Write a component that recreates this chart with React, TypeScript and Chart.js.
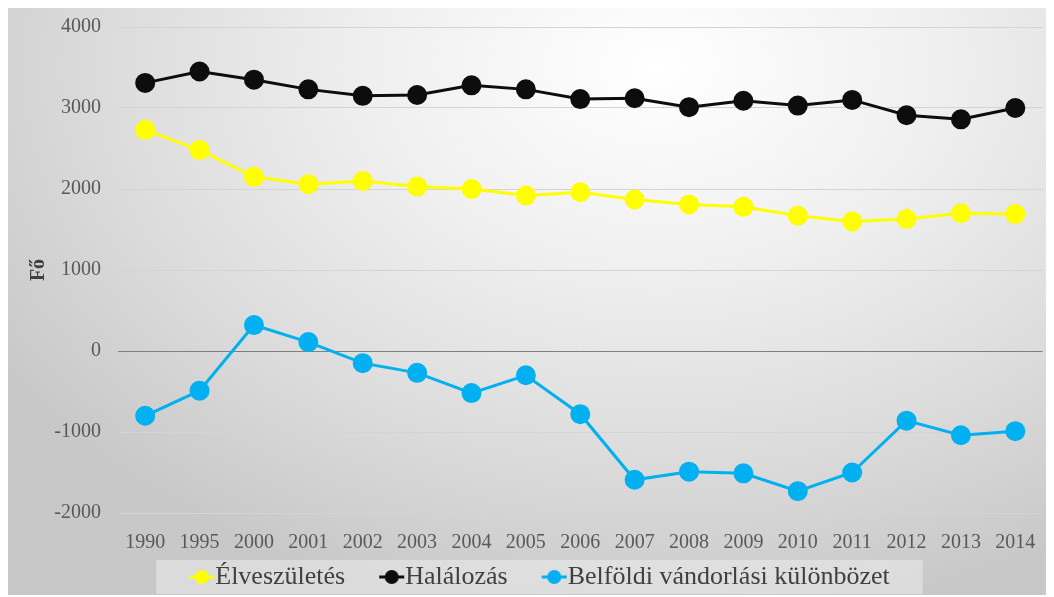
import React, { useEffect, useRef } from "react";
import { Chart, registerables } from "chart.js";

Chart.register(...registerables);

const years = ["1990", "1995", "2000", "2001", "2002", "2003", "2004", "2005", "2006", "2007", "2008", "2009", "2010", "2011", "2012", "2013", "2014"];
const elveszuletes = [2730, 2480, 2150, 2060, 2100, 2030, 2000, 1920, 1960, 1870, 1810, 1780, 1670, 1600, 1630, 1700, 1690];
const halalozas = [3310, 3450, 3350, 3230, 3150, 3160, 3280, 3230, 3110, 3120, 3010, 3090, 3030, 3100, 2910, 2860, 3000];
const belfoldi = [-800, -490, 320, 110, -150, -270, -520, -300, -780, -1590, -1490, -1510, -1730, -1500, -860, -1040, -990];
const seriesNames = ["Élveszületés", "Halálozás", "Belföldi vándorlási különbözet"];
const seriesColors = ["#FFFF00", "#0d0d0d", "#00B0F0"];
const yTicks = [-2000, -1000, 0, 1000, 2000, 3000, 4000];

const FONT = "'Liberation Serif', 'Times New Roman', serif";
const LEAD = 21; // blank lead-in inside each legend item

function makeMarker(color: string): HTMLCanvasElement {
  // image centred at item x + 17 (box width 34); line drawn at item x + 21..46
  const c = document.createElement("canvas");
  c.width = 80;
  c.height = 20;
  const ctx = c.getContext("2d")!;
  ctx.strokeStyle = color;
  ctx.lineWidth = 3;
  ctx.beginPath();
  ctx.moveTo(44, 10);
  ctx.lineTo(69, 10);
  ctx.stroke();
  ctx.fillStyle = color;
  ctx.beginPath();
  ctx.arc(56.5, 10, 7, 0, Math.PI * 2);
  ctx.fill();
  return c;
}

const legendBg = {
  id: "legendBg",
  beforeDraw(chart: any) {
    const lg = chart.legend;
    if (!lg || !lg.legendHitBoxes || !lg.legendHitBoxes.length) return;
    const boxes = lg.legendHitBoxes;
    let l = Infinity, r = -Infinity, cy = 0;
    boxes.forEach((b: any) => {
      l = Math.min(l, b.left);
      r = Math.max(r, b.left + b.width);
      cy = b.top + b.height / 2;
    });
    l += LEAD;
    const ctx = chart.ctx;
    ctx.save();
    ctx.fillStyle = "rgba(255,255,255,0.35)";
    ctx.fillRect(l - 33, cy - 17, r - l + 66, 34);
    ctx.restore();
  },
};

export default function App() {
  const ref = useRef<HTMLCanvasElement>(null);
  useEffect(() => {
    if (!ref.current) return;
    const markers = seriesColors.map(makeMarker);
    const data = [elveszuletes, halalozas, belfoldi];
    const chart = new Chart(ref.current, {
      type: "line",
      data: {
        labels: years,
        datasets: data.map((d, i) => ({
          label: seriesNames[i],
          data: d,
          borderColor: seriesColors[i],
          backgroundColor: seriesColors[i],
          pointBackgroundColor: seriesColors[i],
          pointBorderColor: seriesColors[i],
          borderWidth: 3,
          pointRadius: 8.5,
          pointHoverRadius: 8.5,
          tension: 0,
        })),
      },
      options: {
        animation: false,
        responsive: false,
        maintainAspectRatio: false,
        layout: { padding: { top: 19, right: 4, bottom: -5, left: 0 } },
        plugins: {
          tooltip: { enabled: false },
          legend: {
            position: "bottom",
            labels: {
              usePointStyle: true,
              pointStyleWidth: 34,
              padding: 13,
              color: "#404040",
              font: { family: FONT, size: 26 },
              generateLabels: (ch: any) =>
                (Chart.defaults.plugins.legend.labels as any).generateLabels(ch).map((it: any, i: number) => ({
                  ...it,
                  pointStyle: markers[i],
                })),
            },
          },
        },
        scales: {
          x: {
            offset: true,
            grid: { display: false },
            border: { display: false },
            afterFit: (s: any) => {
              s.height = 38;
            },
            ticks: { color: "#595959", font: { family: FONT, size: 20 }, padding: 10, maxRotation: 0, autoSkip: false },
          },
          y: {
            min: -2000,
            max: 4000,
            afterBuildTicks: (s: any) => {
              s.ticks = yTicks.map((v) => ({ value: v }));
            },
            afterFit: (s: any) => {
              s.width = 110;
              s.paddingTop = 0;
              s.paddingBottom = 0;
            },
            border: { display: false },
            grid: {
              drawTicks: false,
              lineWidth: 1,
              color: (c: any) => (c.tick && c.tick.value === 0 ? "#7f7f7f" : "#d4d4d4"),
            },
            ticks: {
              color: "#595959",
              font: { family: FONT, size: 20 },
              padding: 17,
              callback: (v: any) => String(v),
            },
            title: {
              display: true,
              text: "Fő",
              color: "#404040",
              font: { family: FONT, size: 20, weight: "bold" },
              padding: { top: 19, bottom: 0 },
            },
          },
        },
      },
      plugins: [legendBg],
    } as any);
    return () => chart.destroy();
  }, []);
  return (
    <div
      style={{
        width: 1046,
        height: 587,
        background:
          "radial-gradient(ellipse 75% 95% at 62% 10%, #ffffff 0%, #f0f0f0 35%, #dcdcdc 70%, #c8c8c8 100%)",
      }}
    >
      <canvas ref={ref} width={1046} height={587} style={{ display: "block" }} />
    </div>
  );
}
